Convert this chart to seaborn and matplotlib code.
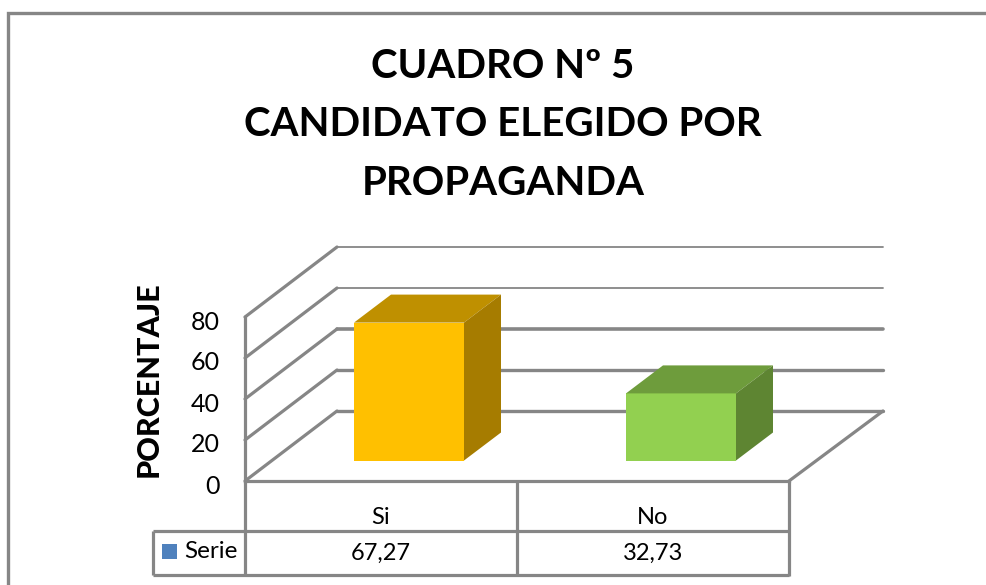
import matplotlib
matplotlib.use("Agg")
import matplotlib.pyplot as plt
from matplotlib.lines import Line2D
from matplotlib.patches import Rectangle
from matplotlib.transforms import ScaledTranslation
import pandas as pd
import seaborn as sns

title = "CUADRO Nº 5\nCANDIDATO ELEGIDO POR\nPROPAGANDA"
ylabel = "PORCENTAJE"
categories = ["Si", "No"]
values = [67.27, 32.73]
value_labels = ["67,27", "32,73"]
series_name = "Serie"
yticks = [0, 20, 40, 60, 80]
front_colors = ["#FFC000", "#92D050"]
top_colors = ["#BF9000", "#6E9C3C"]
side_colors = ["#A67C00", "#5E8532"]
gridline_widths = [2.4, 2.4, 2.6, 1.3, 1.3]

W, H = 987, 585
GRAY = "#868686"
FONT = "Lato"

sns.set_theme(style="white")
plt.rcParams["font.family"] = [FONT, "DejaVu Sans"]

fig = plt.figure(figsize=(W / 100, H / 100), dpi=100, facecolor="white")
PX_X, PX_Y = 272.0, 2.05  # pixels per category / per percent
ax = fig.add_axes([245 / W, (H - 481) / H, 544 / W, 80 * PX_Y / H])
ax.patch.set_alpha(0)

df = pd.DataFrame({"cat": categories, "val": values})
sns.barplot(data=df, x="cat", y="val", hue="cat", palette=front_colors, dodge=False,
            width=110 / PX_X, legend=False, saturation=1, ax=ax, zorder=3, linewidth=0)
ax.set_xlim(-0.5, 1.5)
ax.set_ylim(0, 80)


def dx(px):
    return px / PX_X


def dy(px):
    return px / PX_Y


# walls and floor
wall_x, wall_y = dx(92), dy(70)
end_x = 1.5 + dx(94)
for v, lw in zip(yticks, gridline_widths):
    ax.plot([-0.5, -0.5 + wall_x], [v, v + wall_y], color=GRAY, lw=2.3, clip_on=False,
            zorder=1, solid_capstyle="round")
    ax.plot([-0.5 + wall_x, end_x], [v + wall_y, v + wall_y], color=GRAY, lw=lw,
            clip_on=False, zorder=1, solid_capstyle="round")
ax.plot([1.5, end_x], [0, wall_y], color=GRAY, lw=2.3, clip_on=False, zorder=1)

# 3-D boxes built on the seaborn bars
shift_x, shift_y = dx(28), dy(20.5)
depth_x, depth_y = dx(37), dy(28)
for patch, val, top, side in zip(ax.patches, values, top_colors, side_colors):
    patch.set_x(patch.get_x() + shift_x)
    patch.set_y(shift_y)
    patch.set_linewidth(0)
    patch.set_edgecolor("none")
    patch.set_clip_on(False)
    x0, x1 = patch.get_x(), patch.get_x() + patch.get_width()
    y0, y1 = shift_y, shift_y + val
    ax.fill([x0, x1, x1 + depth_x, x0 + depth_x], [y1, y1, y1 + depth_y, y1 + depth_y],
            color=top, lw=0, clip_on=False, zorder=3)
    ax.fill([x1, x1 + depth_x, x1 + depth_x, x1], [y0, y0 + depth_y, y1 + depth_y, y1],
            color=side, lw=0, clip_on=False, zorder=3)

# axes
for s in ["top", "right"]:
    ax.spines[s].set_visible(False)
for s in ["left", "bottom"]:
    ax.spines[s].set_color(GRAY)
    ax.spines[s].set_linewidth(2.3)
ax.set_yticks(yticks)
ax.set_yticklabels([str(t) for t in yticks], fontsize=18, color="black", family=FONT)
ax.tick_params(axis="y", length=0, pad=18)
down = ScaledTranslation(0, -3 / 100, fig.dpi_scale_trans)
for lab in ax.get_yticklabels():
    lab.set_transform(lab.get_transform() + down)
ax.set_xticks(range(len(categories)))
ax.set_xticklabels(categories, fontsize=17, color="black", family=FONT)
ax.tick_params(axis="x", length=0, pad=18.5)
ax.set_xlabel("")
ax.set_ylabel(ylabel, fontsize=22, fontweight="black", color="black", family=FONT)
ax.yaxis.set_label_coords(163 / W, (H - 379) / H, transform=fig.transFigure)


# decoration drawn in figure pixels
def fig_line(xs, ys, lw=2.3):
    fig.add_artist(Line2D([x / W for x in xs], [1 - y / H for y in ys], color=GRAY, lw=lw,
                          solid_joinstyle="miter", solid_capstyle="butt"))


fig_line([8, 8, 987], [585, 13, 13], lw=2.4)                # chart frame
fig_line([245, 245], [481, 575])                            # table
fig_line([517, 517], [481, 575])
fig_line([789, 789], [481, 576])
fig_line([153, 789], [531, 531])
fig_line([153, 789], [575, 575])
fig_line([153, 153], [531, 575])

fig.add_artist(Rectangle((162 / W, 1 - 559 / H), 15 / W, 15 / H, color="#4F81BD", lw=0))
fig.text(184 / W, 1 - 551 / H, series_name, fontsize=17.5, va="center", ha="left", color="black")
for lab, cx in zip(value_labels, [381, 653]):
    fig.text(cx / W, 1 - 553 / H, lab, fontsize=17, va="center", ha="center", color="black")

fig.text(503 / W, 1 - 125 / H, title, fontsize=29, fontweight="bold", ha="center",
         va="center", linespacing=1.72, color="black")

fig.savefig("out.png", dpi=100, facecolor="white")
